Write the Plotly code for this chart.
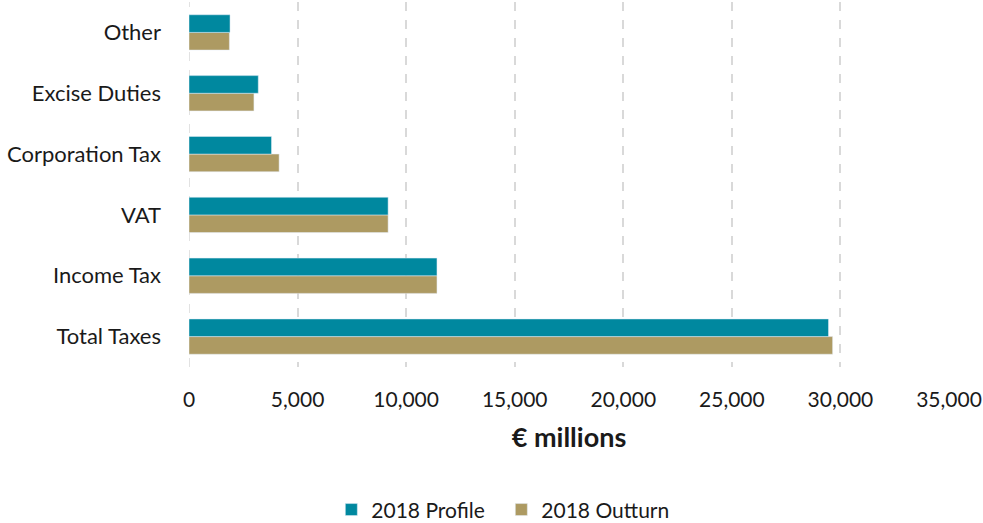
import plotly.graph_objects as go

categories = ["Total Taxes", "Income Tax", "VAT", "Corporation Tax", "Excise Duties", "Other"]
profile_2018 = [29450, 11420, 9170, 3800, 3190, 1890]
outturn_2018 = [29640, 11420, 9170, 4150, 2990, 1860]
x_ticks = [0, 5000, 10000, 15000, 20000, 25000, 30000, 35000]

teal = "#00889F"
tan = "#AD9A62"
font_family = "Lato, 'Open Sans', sans-serif"

fig = go.Figure()
fig.add_trace(go.Bar(y=categories, x=outturn_2018, orientation="h", name="2018 Outturn",
                     marker=dict(color=tan), legendrank=2))
fig.add_trace(go.Bar(y=categories, x=profile_2018, orientation="h", name="2018 Profile",
                     marker=dict(color=teal), legendrank=1))

fig.add_shape(type="line", xref="x", yref="paper", x0=0, x1=0, y0=0, y1=1,
              line=dict(color="#D9D9D9", width=1.5, dash="dash"), layer="below")

fig.update_layout(
    width=983, height=523,
    margin=dict(l=189, r=34, t=2, b=156),
    barmode="group", bargap=0.42, bargroupgap=0,
    plot_bgcolor="white", paper_bgcolor="white",
    font=dict(family=font_family, size=21, color="#1a1a1a"),
    xaxis=dict(range=[0, 35000], tickvals=x_ticks, tickformat=",d",
               showgrid=True, gridcolor="#D9D9D9", griddash="dash", gridwidth=1.5,
               zeroline=False, showline=False, ticklabelstandoff=18,
               title=dict(text="<b>€ millions</b>", font=dict(size=27), standoff=18)),
    yaxis=dict(showgrid=False, zeroline=False, showline=False, ticklabelstandoff=27,
               tickfont=dict(size=22)),
    legend=dict(orientation="h", xref="container", x=0.51, xanchor="center", yref="container",
                y=0.025, yanchor="middle", font=dict(size=21), itemwidth=30,
                entrywidth=125, entrywidthmode="pixels"),
)
fig.write_html("out.html")
